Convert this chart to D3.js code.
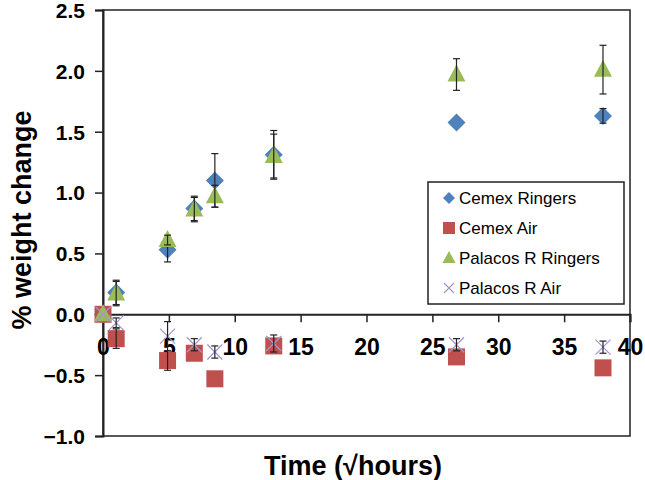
<!DOCTYPE html>
<html><head><meta charset="utf-8">
<script src="https://cdn.jsdelivr.net/npm/d3@7"></script>
<style>body{margin:0;background:#fff}svg{display:block;font-family:Arial,"Liberation Sans",sans-serif}</style>
</head><body>
<svg id="c" width="645" height="480"></svg>
<script>
// Time in √hours
const times = [0, 1, 4.9, 6.93, 8.49, 12.96, 26.83, 37.95];
const seriesNames = ["Cemex Ringers", "Cemex Air", "Palacos R Ringers", "Palacos R Air"];
const cemexRingers = [0, 0.18, 0.53, 0.87, 1.10, 1.31, 1.575, 1.63];
const cemexRingersErr = [0, 0.10, 0.10, 0.10, 0.22, 0.20, 0, 0.06];
const cemexAir = [0, -0.20, -0.38, -0.32, -0.53, -0.26, -0.35, -0.44];
const cemexAirErr = [0, 0.08, 0.08, 0, 0, 0, 0, 0];
const palacosRingers = [0, 0.17, 0.61, 0.86, 0.97, 1.30, 1.97, 2.01];
const palacosRingersErr = [0, 0.10, 0.04, 0.10, 0.09, 0.18, 0.13, 0.20];
const palacosAir = [0, -0.07, -0.18, -0.25, -0.31, -0.24, -0.25, -0.27];
const palacosAirErr = [0, 0.04, 0.12, 0.05, 0.05, 0.07, 0.05, 0.05];
const xTicks = [0, 5, 10, 15, 20, 25, 30, 35, 40];
const yTicks = [-1.0, -0.5, 0.0, 0.5, 1.0, 1.5, 2.0, 2.5];

const svg = d3.select("#c");
const x = d3.scaleLinear().domain([0, 40]).range([103, 630]);
const y = d3.scaleLinear().domain([-1, 2.5]).range([436, 10]);
const axisCol = "#222";

// frame
svg.append("rect").attr("x", x(0)).attr("y", y(2.5)).attr("width", x(40) - x(0)).attr("height", y(-1) - y(2.5))
  .attr("fill", "none").attr("stroke", axisCol).attr("stroke-width", 1.5);

// y axis
const yAxis = svg.append("g").attr("transform", `translate(${x(0)},0)`)
  .call(d3.axisLeft(y).tickValues(yTicks).tickSize(8).tickPadding(10).tickFormat(d3.format(".1f")));
yAxis.select(".domain").attr("stroke", axisCol).attr("stroke-width", 2);
yAxis.selectAll(".tick line").attr("stroke", axisCol).attr("stroke-width", 1.5);
yAxis.selectAll("text").attr("font-size", 21).attr("font-weight", "bold").attr("fill", "#000")
  .attr("font-family", "Arial, 'Liberation Sans', sans-serif").attr("dy", "0.35em");

// x axis at y=0
const xAxis = svg.append("g").attr("transform", `translate(0,${y(0)})`)
  .call(d3.axisBottom(x).tickValues(xTicks).tickSize(8).tickPadding(16).tickFormat(d3.format("d")));
xAxis.select(".domain").attr("stroke", axisCol).attr("stroke-width", 2);
xAxis.selectAll(".tick line").attr("stroke", axisCol).attr("stroke-width", 1.5);
xAxis.selectAll("text").attr("font-size", 23).attr("font-weight", "bold").attr("fill", "#000")
  .attr("font-family", "Arial, 'Liberation Sans', sans-serif");

// titles
svg.append("text").attr("x", 353).attr("y", 475).attr("text-anchor", "middle")
  .attr("font-size", 27).attr("font-weight", "bold").text("Time (√hours)");
svg.append("text").attr("transform", "translate(31,220) rotate(-90)").attr("text-anchor", "middle")
  .attr("font-size", 27).attr("font-weight", "bold").text("% weight change");

const cols = ["#4F81BD", "#C0504D", "#9BBB59", "#8064A2"];
const xCol = "#A595CC";
const vals = [cemexRingers, cemexAir, palacosRingers, palacosAir];
const errs = [cemexRingersErr, cemexAirErr, palacosRingersErr, palacosAirErr];

function drawMarker(g, i, cx, cy) {
  if (i === 0) {
    g.append("path").attr("d", `M${cx},${cy-9}L${cx+9},${cy}L${cx},${cy+9}L${cx-9},${cy}Z`).attr("fill", cols[0]);
  } else if (i === 1) {
    g.append("rect").attr("x", cx-8.5).attr("y", cy-8.5).attr("width", 17).attr("height", 17).attr("fill", cols[1]);
  } else if (i === 2) {
    g.append("path").attr("d", `M${cx},${cy-10}L${cx+9},${cy+7}L${cx-9},${cy+7}Z`).attr("fill", cols[2]);
  } else {
    g.append("path").attr("d", `M${cx-7.5},${cy-7.5}L${cx+7.5},${cy+7.5}M${cx+7.5},${cy-7.5}L${cx-7.5},${cy+7.5}`)
      .attr("stroke", xCol).attr("stroke-width", 1.2).attr("fill", "none");
  }
}

const plot = svg.append("g");
vals.forEach((arr, i) => {
  const g = plot.append("g");
  arr.forEach((v, j) => {
    drawMarker(g, i, x(times[j]), y(v));
  });
  arr.forEach((v, j) => {
    const e = errs[i][j];
    if (e <= 0) return;
    const cx = x(times[j]);
    const y1 = y(v + e), y2 = y(v - e);
    g.append("line").attr("x1", cx).attr("x2", cx).attr("y1", y1).attr("y2", y2).attr("stroke", "#222").attr("stroke-width", 1.2);
    [y1, y2].forEach(yy => g.append("line").attr("x1", cx-3.5).attr("x2", cx+3.5).attr("y1", yy).attr("y2", yy).attr("stroke", "#222").attr("stroke-width", 1.2));
  });
});

// legend
const lg = svg.append("g");
lg.append("rect").attr("x", 428).attr("y", 182).attr("width", 196).attr("height", 122)
  .attr("fill", "#fff").attr("stroke", "#222").attr("stroke-width", 1.5);
seriesNames.forEach((n, i) => {
  const cy = 198 + i * 30;
  const mg = lg.append("g");
  if (i === 0) mg.append("path").attr("d", `M449,${cy-6}L455,${cy}L449,${cy+6}L443,${cy}Z`).attr("fill", cols[0]);
  else if (i === 1) mg.append("rect").attr("x", 443).attr("y", cy-6).attr("width", 12).attr("height", 12).attr("fill", cols[1]);
  else if (i === 2) mg.append("path").attr("d", `M449,${cy-7}L455.5,${cy+5}L442.5,${cy+5}Z`).attr("fill", cols[2]);
  else mg.append("path").attr("d", `M444,${cy-5}L454,${cy+5}M454,${cy-5}L444,${cy+5}`).attr("stroke", xCol).attr("stroke-width", 1.2);
  lg.append("text").attr("x", 459).attr("y", cy).attr("dy", "0.35em").attr("font-size", 17).attr("fill", "#000").text(n);
});
</script>
</body></html>
